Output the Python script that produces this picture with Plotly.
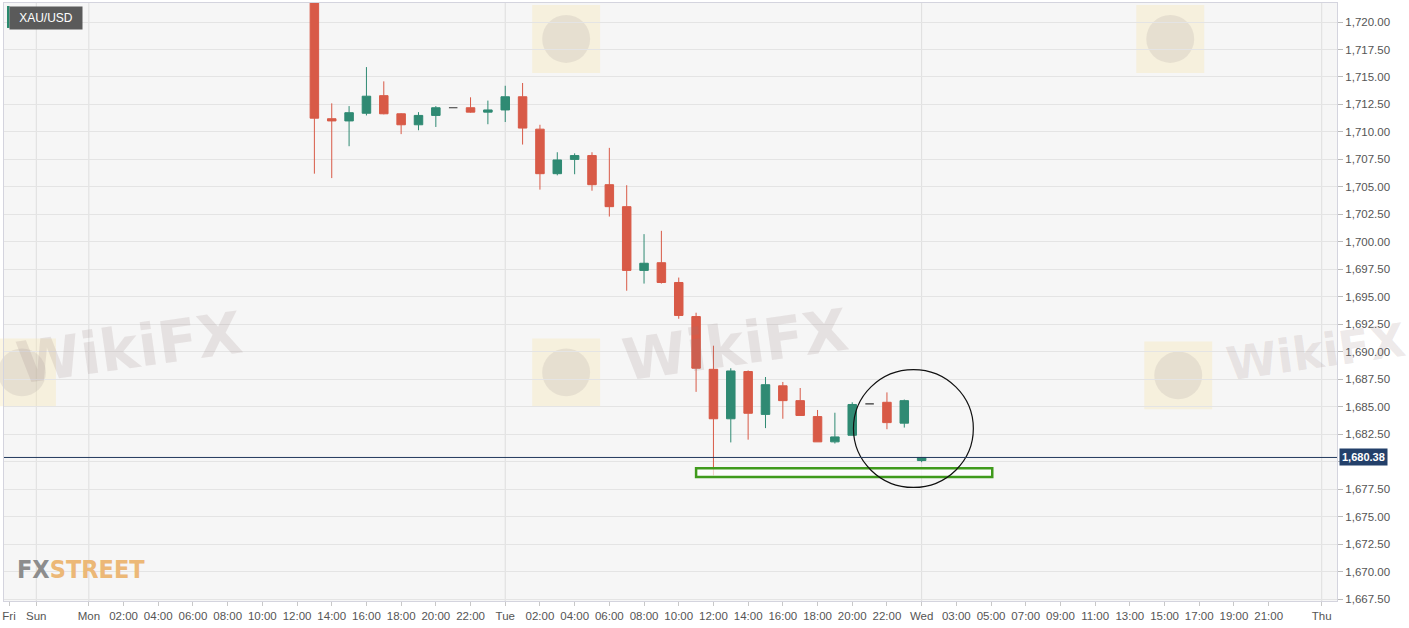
import plotly.graph_objects as go

# ---------------- data ----------------
# x position = hours since Monday 00:00 on the chart's (gap-compressed) time axis
candle_hour = [13, 14, 15, 16, 17, 18, 19, 20, 21, 22, 23, 24,
               25, 26, 27, 28, 29, 30, 31, 32, 33, 34, 35, 36,
               37, 38, 39, 40, 41, 42, 43, 44, 45, 46, 47, 48]
open_ = [1724.5, 1711.2, 1711.0, 1711.7, 1713.3, 1711.65, 1710.65, 1711.5, 1712.2, 1712.2, 1711.8, 1712.0,
         1713.2, 1710.25, 1706.2, 1707.5, 1707.85, 1705.2, 1703.2, 1697.4, 1698.1, 1696.3, 1693.2, 1688.4,
         1683.9, 1688.2, 1684.3, 1686.9, 1685.55, 1684.1, 1681.8, 1682.4, 1685.25, 1685.4, 1683.5, 1680.1]
high = [1725.0, 1712.6, 1712.35, 1715.9, 1714.6, 1711.7, 1711.8, 1712.35, 1712.2, 1713.15, 1712.85, 1714.2,
        1714.45, 1710.65, 1708.15, 1708.05, 1708.15, 1708.55, 1705.15, 1700.7, 1701.0, 1696.75, 1693.55, 1690.55,
        1688.5, 1688.3, 1687.7, 1687.25, 1686.7, 1684.7, 1684.45, 1685.4, 1685.25, 1686.3, 1685.65, 1680.4]
low = [1706.2, 1705.8, 1708.7, 1711.5, 1711.6, 1709.8, 1710.15, 1710.45, 1712.2, 1711.75, 1710.7, 1710.9,
       1708.85, 1704.75, 1706.05, 1706.15, 1704.65, 1702.3, 1695.55, 1696.2, 1696.2, 1693.0, 1686.35, 1678.75,
       1681.75, 1682.0, 1683.05, 1683.9, 1684.2, 1681.8, 1681.65, 1682.4, 1685.25, 1682.95, 1683.1, 1679.95]
close = [1711.25, 1711.0, 1711.75, 1713.25, 1711.65, 1710.65, 1711.5, 1712.2, 1712.2, 1711.8, 1712.0, 1713.2,
         1710.35, 1706.2, 1707.45, 1707.85, 1705.2, 1703.2, 1697.4, 1698.05, 1696.3, 1693.3, 1688.5, 1683.9,
         1688.25, 1684.4, 1687.0, 1685.55, 1684.2, 1681.8, 1682.25, 1685.2, 1685.25, 1683.55, 1685.55, 1680.38]

last_price = 1680.38
support_zone = (1678.6, 1679.4)      # green box price band
support_hours = (35.0, 52.07)        # green box time span
circle_hours = (44.07, 50.98)
circle_prices = (1677.65, 1688.37)

x_tick_vals = [-4.6, -3.03, 0, 2, 4, 6, 8, 10, 12, 14, 16, 18, 20, 22,
               24, 26, 28, 30, 32, 34, 36, 38, 40, 42, 44, 46,
               48, 50, 52, 54, 56, 58, 60, 62, 64, 66, 68, 71.06]
x_tick_text = ["Fri", "Sun", "Mon", "02:00", "04:00", "06:00", "08:00", "10:00", "12:00", "14:00",
               "16:00", "18:00", "20:00", "22:00",
               "Tue", "02:00", "04:00", "06:00", "08:00", "10:00", "12:00", "14:00", "16:00", "18:00",
               "20:00", "22:00",
               "Wed", "03:00", "05:00", "07:00", "09:00", "11:00", "13:00", "15:00", "17:00", "19:00",
               "21:00", "Thu"]
day_lines = [-3.03, 0, 24, 48, 71.06]
y_tick_vals = [1667.5, 1670, 1672.5, 1675, 1677.5, 1680, 1682.5, 1685, 1687.5, 1690, 1692.5, 1695,
               1697.5, 1700, 1702.5, 1705, 1707.5, 1710, 1712.5, 1715, 1717.5, 1720]
# the 1,680.00 label sits under the last-price badge
y_tick_text = ["" if v == 1680 else f"{v:,.2f}" for v in y_tick_vals]

RED = "#d85a47"
GREEN = "#2f8a73"

# ---------------- layout helpers ----------------
W, H = 1409, 628
ML, MR, MT, MB = 2, 72, 2, 27
PW, PH = W - ML - MR, H - MT - MB


def px_x(px):
    return (px - ML) / PW


def px_y(py):
    return (H - MB - py) / PH


# split doji candles
idx_main = [i for i in range(len(candle_hour)) if open_[i] != close[i]]
idx_doji = [i for i in range(len(candle_hour)) if open_[i] == close[i]]

fig = go.Figure()
fig.add_trace(go.Candlestick(
    x=[candle_hour[i] for i in idx_main],
    open=[open_[i] for i in idx_main], high=[high[i] for i in idx_main],
    low=[low[i] for i in idx_main], close=[close[i] for i in idx_main],
    increasing=dict(line=dict(color=GREEN, width=1), fillcolor=GREEN),
    decreasing=dict(line=dict(color=RED, width=1), fillcolor=RED),
    showlegend=False, hoverinfo="skip",
))
fig.add_trace(go.Candlestick(
    x=[candle_hour[i] for i in idx_doji],
    open=[open_[i] for i in idx_doji], high=[high[i] for i in idx_doji],
    low=[low[i] for i in idx_doji], close=[close[i] for i in idx_doji],
    increasing=dict(line=dict(color="#333333", width=1.2), fillcolor="#333333"),
    decreasing=dict(line=dict(color="#333333", width=1.2), fillcolor="#333333"),
    showlegend=False, hoverinfo="skip",
))

shapes = []
# vertical day grid lines
for d in day_lines:
    shapes.append(dict(type="line", xref="x", yref="paper", x0=d, x1=d, y0=0, y1=1,
                       line=dict(color="#dedede", width=1), layer="below"))

# watermark logos (pale squares with a gray disc)
for cx, cy in [(565, 38), (1170, 38), (565, 372), (1178, 375), (20, 372)]:
    s = 34
    shapes.append(dict(type="rect", xref="paper", yref="paper",
                       x0=px_x(cx - s), x1=px_x(cx + s), y0=px_y(cy + s), y1=px_y(cy - s),
                       fillcolor="rgba(246,228,175,0.35)", line=dict(width=0), layer="below"))
    shapes.append(dict(type="circle", xref="paper", yref="paper",
                       x0=px_x(cx - 24), x1=px_x(cx + 24), y0=px_y(cy + 24), y1=px_y(cy - 24),
                       fillcolor="rgba(160,150,150,0.18)", line=dict(width=0), layer="below"))

# support zone
shapes.append(dict(type="rect", xref="x", yref="y",
                   x0=support_hours[0], x1=support_hours[1], y0=support_zone[0], y1=support_zone[1],
                   line=dict(color="#3f9a1c", width=2.5), fillcolor="rgba(255,255,255,0.7)"))
# circle
shapes.append(dict(type="circle", xref="x", yref="y",
                   x0=circle_hours[0], x1=circle_hours[1], y0=circle_prices[0], y1=circle_prices[1],
                   line=dict(color="#111111", width=1.2)))
# last price line
shapes.append(dict(type="line", xref="paper", yref="y", x0=0, x1=1, y0=last_price, y1=last_price,
                   line=dict(color="#22395c", width=1)))
# XAU/USD label stripe
shapes.append(dict(type="rect", xref="paper", yref="paper",
                   x0=px_x(5), x1=px_x(7.5), y0=px_y(27), y1=px_y(5),
                   fillcolor="#2a8a6e", line=dict(width=0)))

annotations = []
# watermark text (middle row)
for cx, cy, sz in [(128, 348, 58), (735, 345, 58), (1316, 352, 46)]:
    annotations.append(dict(xref="paper", yref="paper", x=px_x(cx), y=px_y(cy),
                            text="<b>WikiFX</b>", showarrow=False, textangle=-8,
                            font=dict(family="DejaVu Sans", size=sz, color="rgba(150,125,125,0.17)"),
                            xanchor="center", yanchor="middle"))

annotations.append(dict(xref="paper", yref="paper", x=px_x(7.5), y=px_y(5), xanchor="left", yanchor="top",
                        text="XAU/USD", showarrow=False, bgcolor="#5a5a5a", width=66, height=16,
                        borderpad=3, font=dict(family="Liberation Sans, Arial", size=12, color="#ffffff")))
annotations.append(dict(xref="paper", yref="paper", x=px_x(13), y=px_y(569), xanchor="left", yanchor="middle",
                        text="<b><span style='color:#8d8d8d'>FX</span><span style='color:#ecb877'>STREET</span></b>",
                        showarrow=False,
                        font=dict(family="DejaVu Sans Condensed", size=25)))
annotations.append(dict(xref="paper", yref="y", x=1.0, y=last_price, xanchor="left", yanchor="middle",
                        xshift=2, text="<b>1,680.38</b>", showarrow=False, bgcolor="#23406a",
                        borderpad=2, font=dict(family="Liberation Sans, Arial", size=11, color="#ffffff")))

fig.update_layout(
    width=W, height=H,
    margin=dict(l=ML, r=MR, t=MT, b=MB, pad=0),
    paper_bgcolor="#ffffff", plot_bgcolor="#f6f6f6",
    shapes=shapes, annotations=annotations,
    showlegend=False,
    xaxis=dict(type="linear", range=[-4.89, 71.94], rangeslider=dict(visible=False),
               tickmode="array", tickvals=x_tick_vals, ticktext=x_tick_text,
               showgrid=False, zeroline=False, ticks="outside", ticklen=4, tickcolor="#c8c8c8",
               showline=True, linecolor="#d4d4de", linewidth=1, mirror=True,
               tickfont=dict(family="Liberation Sans, Arial", size=11.5, color="#555555")),
    yaxis=dict(side="right", range=[1667.32, 1721.73], tickmode="array", tickvals=y_tick_vals,
               ticktext=y_tick_text, showgrid=True, gridcolor="#e4e4e4", gridwidth=1, zeroline=False,
               ticks="outside", ticklen=5, tickcolor="#bbbbbb",
               showline=True, linecolor="#d4d4de", linewidth=1, mirror=True,
               tickfont=dict(family="Liberation Sans, Arial", size=11.5, color="#555555")),
)

fig.write_html("out.html", config={"displayModeBar": False},
               post_script="document.body.style.margin='0';")
